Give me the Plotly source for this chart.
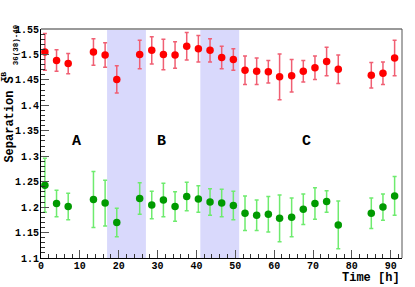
import plotly.graph_objects as go

# ---- data ----
time_h = [1.0, 4.0, 7.0, 13.5, 16.5, 19.5, 25.4, 28.5, 31.5, 34.5, 37.5, 40.5, 43.5,
          46.5, 49.5, 52.5, 55.5, 58.5, 61.4, 64.5, 67.5, 70.5, 73.5, 76.5, 85.0, 88.0, 91.0]

sep_red = [1.505, 1.488, 1.482, 1.505, 1.499, 1.451, 1.500, 1.508, 1.500, 1.499, 1.516,
           1.511, 1.508, 1.494, 1.490, 1.469, 1.467, 1.466, 1.456, 1.458, 1.467, 1.474,
           1.486, 1.471, 1.459, 1.463, 1.493]
err_red = [0.036, 0.021, 0.020, 0.026, 0.024, 0.027, 0.028, 0.027, 0.030, 0.026, 0.027,
           0.026, 0.023, 0.022, 0.021, 0.028, 0.026, 0.022, 0.045, 0.032, 0.021, 0.023,
           0.028, 0.028, 0.025, 0.022, 0.035]

sep_green = [1.243, 1.207, 1.201, 1.215, 1.208, 1.170, 1.217, 1.204, 1.214, 1.201, 1.221,
             1.216, 1.210, 1.208, 1.203, 1.188, 1.184, 1.186, 1.178, 1.180, 1.196, 1.207,
             1.211, 1.165, 1.188, 1.200, 1.222]
err_green = [0.053, 0.026, 0.026, 0.055, 0.045, 0.028, 0.031, 0.027, 0.033, 0.029, 0.028,
             0.026, 0.026, 0.027, 0.028, 0.034, 0.030, 0.035, 0.046, 0.038, 0.030, 0.031,
             0.021, 0.047, 0.030, 0.026, 0.038]

bands = [(17.0, 27.0), (41.0, 51.0)]
region_labels = ["A", "B", "C"]
region_label_x = [9.2, 31.1, 68.2]
region_label_y = 1.328

x_range = [0, 92.9]
y_range = [1.1, 1.55]

FONT = "Liberation Mono, Courier New, monospace"

fig = go.Figure()

fig.add_trace(go.Scatter(
    x=time_h, y=sep_red, mode="markers",
    marker=dict(color="#ff0000", size=7.5, line=dict(width=0)),
    error_y=dict(type="data", array=err_red, color="rgb(240,95,115)", thickness=1.5, width=2),
    showlegend=False, cliponaxis=False))

fig.add_trace(go.Scatter(
    x=time_h, y=sep_green, mode="markers",
    marker=dict(color="#009a00", size=7.5, line=dict(width=0)),
    error_y=dict(type="data", array=err_green, color="rgb(110,235,110)", thickness=1.5, width=2),
    showlegend=False, cliponaxis=False))

for (x0, x1) in bands:
    fig.add_shape(type="rect", xref="x", yref="paper", x0=x0, x1=x1, y0=0, y1=1,
                  fillcolor="#d9d9fc", line=dict(width=0), layer="below")

# frame: top (gray, thicker) and right (dark gray)
fig.add_shape(type="line", xref="paper", yref="paper", x0=0, x1=1, y0=1, y1=1,
              line=dict(color="#999999", width=2))
fig.add_shape(type="line", xref="paper", yref="paper", x0=1, x1=1, y0=0, y1=1,
              line=dict(color="#555555", width=1))

for lab, lx in zip(region_labels, region_label_x):
    fig.add_annotation(x=lx, y=region_label_y, xref="x", yref="y", text=lab,
                       showarrow=False, font=dict(family=FONT, size=15, color="black", weight="bold"))

# axis titles
fig.add_annotation(xref="paper", yref="paper", x=1.001, y=-0.088, xanchor="right", yanchor="middle",
                   text="Time [h]", showarrow=False,
                   font=dict(family=FONT, size=12, color="black", weight="bold"))
fig.add_annotation(xref="paper", yref="paper", x=-0.0867, y=0.603, xanchor="center", yanchor="middle",
                   text="Separation S", textangle=-90, showarrow=False,
                   font=dict(family=FONT, size=12, color="black", weight="bold"))
fig.add_annotation(xref="paper", yref="paper", x=-0.105, y=0.793, xanchor="center", yanchor="middle",
                   text="TB", textangle=-90, showarrow=False,
                   font=dict(family=FONT, size=8, color="black", weight="bold"))
fig.add_annotation(xref="paper", yref="paper", x=-0.0685, y=0.93, xanchor="center", yanchor="middle",
                   text="36(38)-40", textangle=-90, showarrow=False,
                   font=dict(family=FONT, size=7.5, color="black", weight="bold"))

fig.update_xaxes(range=x_range, dtick=10, tick0=0, ticks="inside", ticklen=8, tickwidth=1,
                 tickcolor="#555555", showline=True, linecolor="black", linewidth=1,
                 showgrid=False, zeroline=False, mirror=False, automargin=False,
                 ticklabelstandoff=-2,
                 minor=dict(dtick=2, ticks="inside", ticklen=4, tickcolor="#333333", showgrid=False),
                 tickfont=dict(family=FONT, size=10, color="black", weight="bold"))
fig.update_yaxes(range=y_range, dtick=0.05, tick0=1.1, ticks="inside", ticklen=8, tickwidth=1,
                 tickcolor="#555555", showline=True, linecolor="black", linewidth=1,
                 showgrid=False, zeroline=False, mirror=False, automargin=False,
                 ticklabelstandoff=-1,
                 minor=dict(dtick=0.01, ticks="inside", ticklen=4, tickcolor="#333333", showgrid=False),
                 tickfont=dict(family=FONT, size=10, color="black", weight="bold"))

fig.update_layout(width=415, height=287,
                  margin=dict(l=41.3, r=12.7, t=29.3, b=29, autoexpand=False),
                  plot_bgcolor="white", paper_bgcolor="white",
                  font=dict(family=FONT, color="black"))

fig.write_html("out.html", config={"displayModeBar": False},
               post_script="document.body.style.margin='0';document.body.style.padding='0';")
